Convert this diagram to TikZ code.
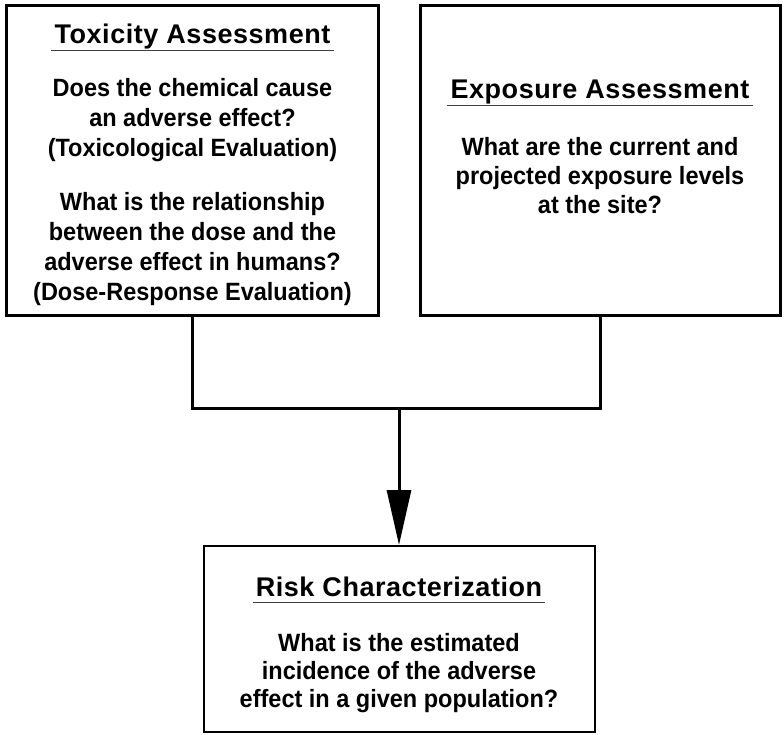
\documentclass[tikz,border=0pt]{standalone}
\usepackage{fontspec}
\setmainfont{Liberation Sans}
\newfontfamily\bodyfont{Liberation Sans}[FakeStretch=0.94]
\newfontfamily\headfont{Liberation Sans}[LetterSpace=2]
\usetikzlibrary{positioning,arrows.meta}

\begin{document}
\begin{tikzpicture}[x=1pt,y=-1pt,
  box/.style={draw,line width=3pt,inner sep=0pt},
  head/.style={font=\headfont\bfseries\fontsize{27}{30}\selectfont,inner xsep=3pt,inner ysep=0pt,text depth=6.5pt},
  body/.style={font=\bodyfont\bfseries\fontsize{25}{30}\selectfont,align=center,inner sep=0pt},
  rule/.style={line width=1pt,black!75},
  link/.style={line width=3pt}]

  \useasboundingbox (0,0) rectangle (784,735);

  % the three boxes
  \node[box,minimum width=372pt,minimum height=310pt] (tox) at (192.5,160.5) {};
  \node[box,minimum width=360pt,minimum height=310pt] (expo) at (600,160.5) {};
  \node[box,line width=2pt,minimum width=391pt,minimum height=186pt] (risk) at (399,639) {};

  % headings
  \node[head,below=40pt of tox.north,anchor=base] (htox) {Toxicity Assessment};
  \node[head,below=95pt of expo.north,anchor=base] (hexpo) {Exposure Assessment};
  \node[head,below=51pt of risk.north,anchor=base] (hrisk) {Risk Characterization};

  \draw[rule] (htox.south west) -- (htox.south east);
  \draw[rule] (hexpo.south west) -- (hexpo.south east);
  \draw[rule] (hrisk.south west) -- (hrisk.south east);

  % questions (base = last line)
  \node[body,below=257pt of htox.base,anchor=base] (qtox)
    {Does the chemical cause\\an adverse effect?\\(Toxicological Evaluation)\\[24pt]
     What is the relationship\\between the dose and the\\adverse effect in humans?\\(Dose-Response Evaluation)};
  \node[body,below=115pt of hexpo.base,anchor=base,font=\bodyfont\bfseries\fontsize{25}{29}\selectfont] (qexpo)
    {What are the current and\\projected exposure levels\\at the site?};
  \node[body,below=111pt of hrisk.base,anchor=base,font=\bodyfont\bfseries\fontsize{25}{28}\selectfont] (qrisk)
    {What is the estimated\\incidence of the adverse\\effect in a given population?};

  % connectors
  \coordinate (join) at (risk.north |- 0,408);
  \draw[link] (tox.south) |- (join) -| (expo.south);
  \draw[link,-{Triangle[length=55pt,width=24pt]}] (join) -- (risk.north);

\end{tikzpicture}
\end{document}
